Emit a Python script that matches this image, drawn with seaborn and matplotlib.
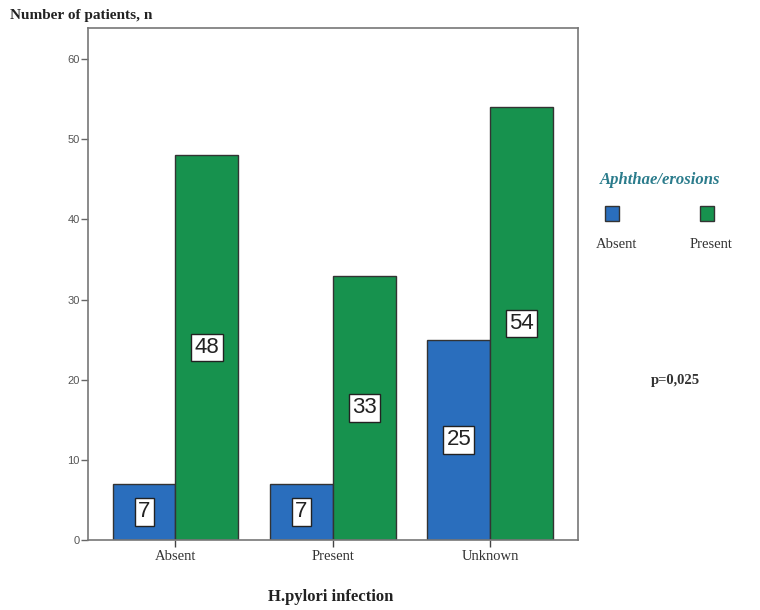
import matplotlib
matplotlib.use("Agg")
import matplotlib.pyplot as plt
import seaborn as sns
import pandas as pd
from matplotlib.patches import Rectangle

# data
hp_groups = ["Absent", "Present", "Unknown"]
aphthae_levels = ["Absent", "Present"]
counts_absent = [7, 7, 25]
counts_present = [48, 33, 54]

df = pd.DataFrame({
    "hp": hp_groups * 2,
    "aphthae": ["Absent"] * 3 + ["Present"] * 3,
    "n": counts_absent + counts_present,
})

sns.set_style("white")
plt.rcParams["font.family"] = ["Liberation Serif", "DejaVu Serif"]

blue = "#2a6ebd"
green = "#17924e"

fig = plt.figure(figsize=(7.6, 6.1), dpi=100)
ax = fig.add_axes([0.116, 0.115, 0.645, 0.839])

sns.barplot(data=df, x="hp", y="n", hue="aphthae", order=hp_groups,
            hue_order=aphthae_levels, palette=[blue, green], width=0.8,
            saturation=1, edgecolor="#333333", linewidth=1.0, legend=False,
            ax=ax)

for cont in ax.containers:
    ax.bar_label(cont, label_type="center", fontsize=16,
                 family="Liberation Sans", color="#222222",
                 bbox=dict(boxstyle="square,pad=0.15", fc="white",
                           ec="#222222", lw=1.0))

ax.set_xlim(-0.555, 2.56)
ax.set_ylim(0, 63.9)
ax.set_yticks(range(0, 61, 10))
ax.set_xlabel("")
ax.set_ylabel("")
for lbl in ax.get_yticklabels():
    lbl.set_family("Liberation Sans")
    lbl.set_fontsize(8)
    lbl.set_color("#555555")
for lbl in ax.get_xticklabels():
    lbl.set_fontsize(10.5)
    lbl.set_color("#333333")
ax.tick_params(axis="y", length=5, width=1, color="#666666", pad=1, left=True)
ax.tick_params(axis="x", length=5, width=1, color="#444444", pad=2, bottom=True)
for s in ax.spines.values():
    s.set_color("#777777")
    s.set_linewidth(1.2)

fig.text(0.013, 0.975, "Number of patients, n", fontsize=11, fontweight="bold",
         color="#222222", va="center", ha="left")
fig.text(0.435, 0.021, "H.pylori infection", fontsize=12, fontweight="bold",
         color="#222222", va="center", ha="center")

# legend
fig.text(0.868, 0.705, "Aphthae/erosions", fontsize=12, fontstyle="italic",
         fontweight="bold", color="#2b7c8c", ha="center", va="center")
for cx, col, name in [(0.805, blue, "Absent"), (0.93, green, "Present")]:
    fig.patches.append(Rectangle((cx - 0.009, 0.638), 0.018, 0.024,
                                 transform=fig.transFigure, fc=col,
                                 ec="#333333", lw=1.0))
    fig.text(cx + 0.006, 0.599, name, fontsize=10.5, color="#333333",
             ha="center", va="center")

fig.text(0.889, 0.377, "p=0,025", fontsize=10.5, fontweight="bold",
         color="#333333", ha="center", va="center")

fig.savefig("out.png", dpi=100, facecolor="white")
